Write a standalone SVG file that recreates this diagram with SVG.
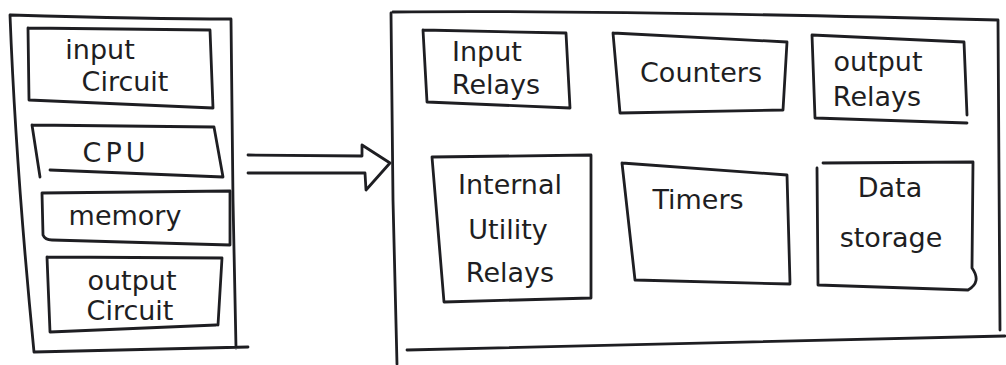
<svg xmlns="http://www.w3.org/2000/svg" width="1006" height="365" viewBox="0 0 1006 365">
  <style>
    .ink { fill: none; stroke: #1e1e22; stroke-width: 2.8; stroke-linecap: round; stroke-linejoin: round; }
    .lbl { font-family: "DejaVu Sans", "Liberation Sans", sans-serif; font-size: 27px; fill: #1e1e22; text-anchor: middle; }
  </style>
  <rect width="1006" height="365" fill="#ffffff"/>

  <!-- PLC block: left panel with its four parts -->
  <g id="plc">
    <path class="ink" d="M10,15 C14,120 24,250 34,352 L248,347 M11,15 C80,17 160,19 231,19 L233,200 L236,348"/>
  </g>
  <g id="input-circuit">
    <path class="ink" d="M28,28 L210,30 L213,108 M28,28 L29,100 Q70,102 213,108"/>
    <text class="lbl" x="100" y="59">input</text>
    <text class="lbl" x="125" y="91">Circuit</text>
  </g>
  <g id="cpu">
    <path class="ink" d="M32,125 L214,127 L223,177 M32,125 L40,177 M50,170 L223,177"/>
    <text class="lbl" x="116" y="162" letter-spacing="4">CPU</text>
  </g>
  <g id="memory">
    <path class="ink" d="M42,193 L230,191 L230,245 M42,193 L43,235 Q45,240 52,240 L230,245"/>
    <text class="lbl" x="125" y="225">memory</text>
  </g>
  <g id="output-circuit">
    <path class="ink" d="M47,257 L222,258 L218,325 M47,257 L50,332 L216,325"/>
    <text class="lbl" x="132" y="290">output</text>
    <text class="lbl" x="130" y="320">Circuit</text>
  </g>

  <!-- Memory map: right panel with its six areas -->
  <g id="memory-map">
    <path class="ink" d="M391,13 L393,200 L397,364 M393,12 C560,10 760,14 998,20 L1000,330 M407,350 C600,345 800,340 1005,336"/>
  </g>
  <g id="input-relays">
    <path class="ink" d="M423,30 L566,33 L570,108 M423,30 L427,102 L570,108"/>
    <text class="lbl" x="487" y="61">Input</text>
    <text class="lbl" x="496" y="94">Relays</text>
  </g>
  <g id="counters">
    <path class="ink" d="M613,33 L787,42 L783,110 M613,33 L620,113 L783,110"/>
    <text class="lbl" x="701" y="82">Counters</text>
  </g>
  <g id="output-relays">
    <path class="ink" d="M812,35 L964,42 L967,115 M812,35 L815,118 L967,123"/>
    <text class="lbl" x="878" y="71">output</text>
    <text class="lbl" x="877" y="106">Relays</text>
  </g>
  <g id="internal-utility-relays">
    <path class="ink" d="M432,157 L591,155 L591,298 M432,157 L444,302 L591,298"/>
    <text class="lbl" x="510" y="194">Internal</text>
    <text class="lbl" x="508" y="239">Utility</text>
    <text class="lbl" x="510" y="282">Relays</text>
  </g>
  <g id="timers">
    <path class="ink" d="M622,163 L787,175 L790,283 M622,163 L635,280 L790,284"/>
    <text class="lbl" x="698" y="209">Timers</text>
  </g>
  <g id="data-storage">
    <path class="ink" d="M823,163 L973,162 L972,268 Q982,282 968,290 L818,285 M817,168 L818,285"/>
    <text class="lbl" x="890" y="197">Data</text>
    <text class="lbl" x="891" y="247">storage</text>
  </g>

  <!-- Connector: hollow block arrow from the PLC to its memory map -->
  <g id="connectors">
    <path class="ink" d="M248,155 L362,156 L362,145 L390,163 L366,190 L365,173 L248,173"/>
  </g>
</svg>
